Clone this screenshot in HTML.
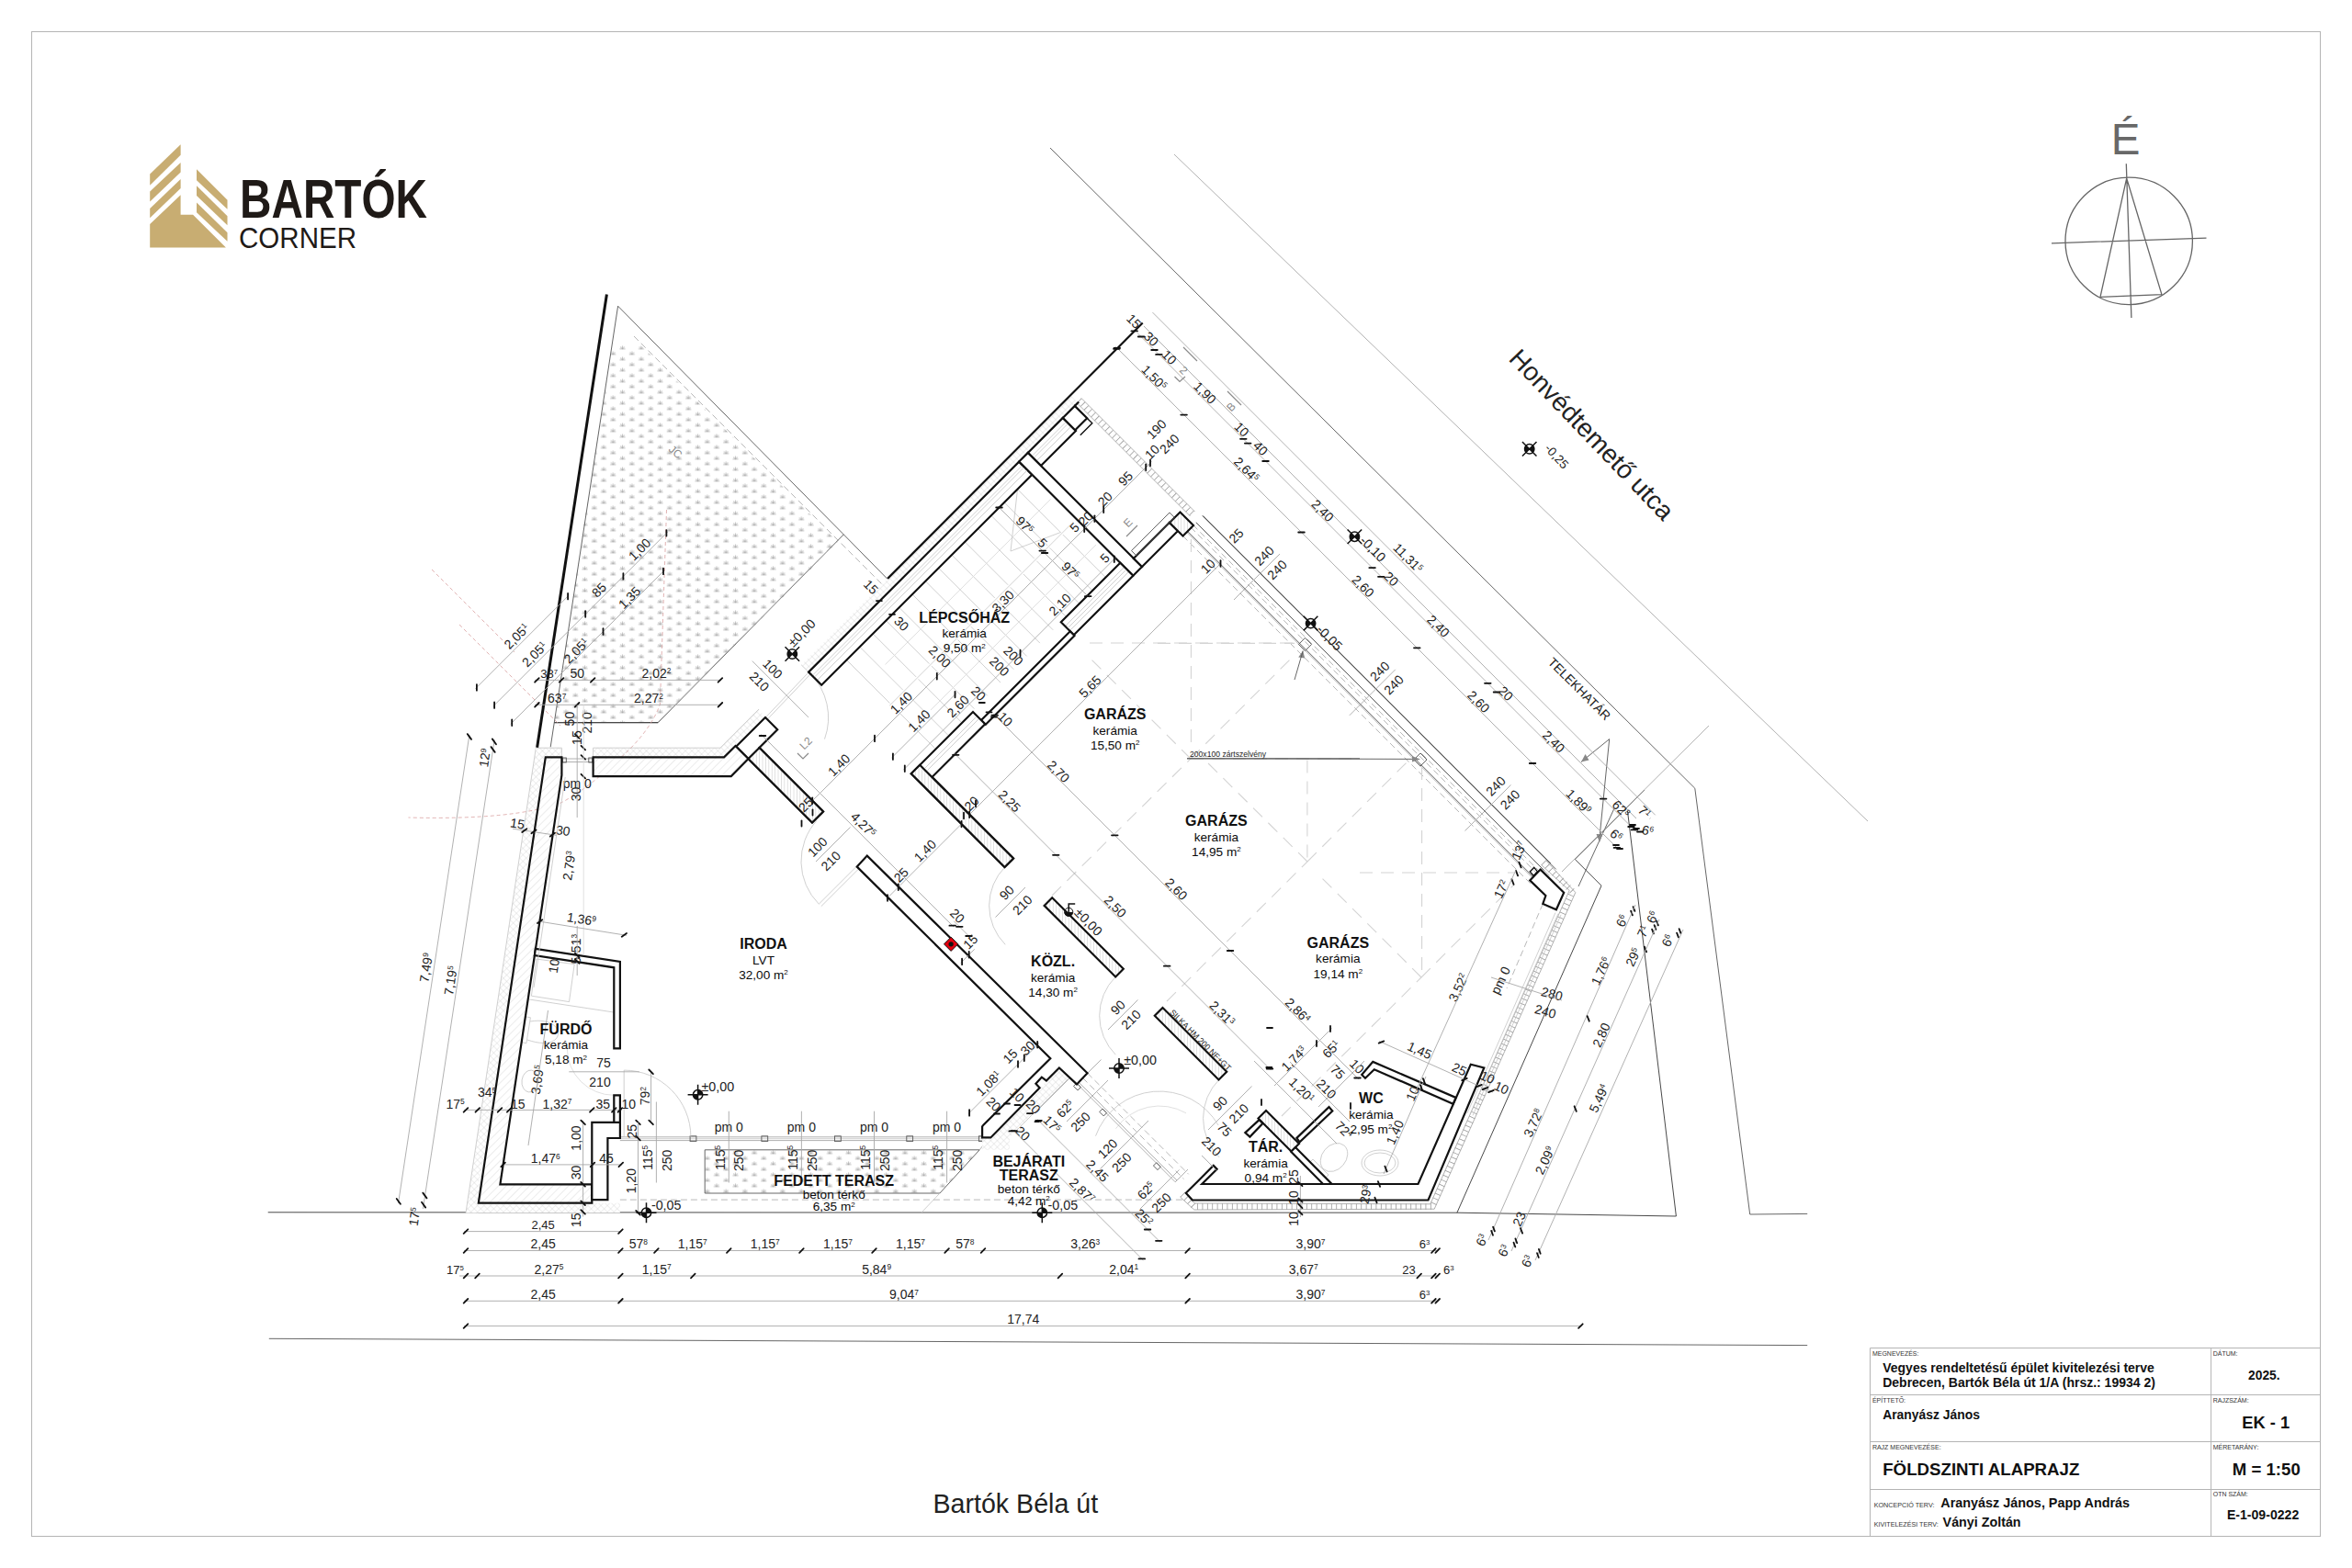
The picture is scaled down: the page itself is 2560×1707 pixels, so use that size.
<!DOCTYPE html>
<html lang="hu"><head><meta charset="utf-8"><title>Földszinti alaprajz</title>
<style>
html,body{margin:0;padding:0;background:#fff}
svg{display:block;font-family:"Liberation Sans",sans-serif}
text{fill:#0a0a0a}
.fr{fill:none;stroke:#b4b4b4;stroke-width:1}
.sm{fill:#333}
.b{font-weight:bold;fill:#111}
.st{fill:#222}
.d{fill:#222}
.na{fill:none;stroke:#666;stroke-width:1.3}
.w{fill:#fff;stroke:#111;stroke-width:2.2;stroke-linejoin:miter}
.wd{fill:url(#hd);stroke:#111;stroke-width:2.2}
.wh{fill:url(#hv);stroke:#111;stroke-width:2.2}
.k3{stroke:#111;stroke-width:3;fill:none}
.k2{stroke:#111;stroke-width:2.2;fill:none}
.k1{stroke:#111;stroke-width:1.4;fill:none}
.k{stroke:#111;stroke-width:1.8;fill:none;stroke-linecap:round}
.t{stroke:#a8a8a8;stroke-width:.9;fill:none}
.t2{stroke:#555;stroke-width:.9;fill:none}
.tk{stroke:#333;stroke-width:.9;fill:none}
.tl{stroke:#c4c4c4;stroke-width:.8;fill:none}
.tll{stroke:#dcdcdc;stroke-width:.9;fill:none}
.ds{stroke:#b0b0b0;stroke-width:.9;fill:none;stroke-dasharray:7 4}
.dsl{stroke:#d4d4d4;stroke-width:1.1;fill:none;stroke-dasharray:14 9}
.rd{stroke:#d9a0a0;stroke-width:.8;fill:none;stroke-dasharray:4 3}
.lv circle{fill:#fff;stroke:#111;stroke-width:1.5}.lv path{stroke:#111;stroke-width:1.5;fill:none}.lv path.q{fill:#111;stroke:none}
.hb{fill:url(#hx);stroke:none}
.gr{fill:url(#grass);stroke:none}
</style></head><body>
<svg width="2560" height="1707" viewBox="0 0 2560 1707">
<defs>
<pattern id="hd" width="6" height="6" patternUnits="userSpaceOnUse" patternTransform="rotate(-45)"><rect width="6" height="6" fill="#fff"/><path d="M0 0H6" stroke="#c9c9c9" stroke-width=".7"/></pattern>
<pattern id="hv" width="3.4" height="3.4" patternUnits="userSpaceOnUse"><rect width="3.4" height="3.4" fill="#fff"/><path d="M0 0V3.4" stroke="#aaa" stroke-width=".7"/></pattern>
<pattern id="hx" width="5" height="5" patternUnits="userSpaceOnUse" patternTransform="rotate(45)"><rect width="5" height="5" fill="#fff"/><path d="M0 0H5M0 0V5" stroke="#cfcfcf" stroke-width=".7"/></pattern>
<pattern id="grass" width="20.5" height="12" patternUnits="userSpaceOnUse" patternTransform="translate(6.3 10.45)"><g stroke="#949494" stroke-width=".6" fill="none" stroke-linecap="round"><path d="M2.3 3.3H7.7M5 .4V3.3M2.9 1.5Q4.4 2 5 3.3Q5.6 2 7.1 1.5"/><path d="M12.55 9.3H17.95M15.25 6.4V9.3M13.15 7.5Q14.65 8 15.25 9.3Q15.85 8 17.35 7.5"/></g></pattern>
</defs>
<rect width="2560" height="1707" fill="#fff"/>

<path class="t2" d="M1143 161L1844.8 858.2L1904.7 1322L1967.2 1321.4"/>
<path class="t" d="M1278 168L2033 894"/>
<path class="tk" d="M1771.5 883L1824.4 1324"/>
<path class="tk" d="M291.7 1319.8L1586 1320.2L1824.4 1324"/>
<path class="t2" d="M292.8 1457.3L1967.2 1464.6"/>
<path class="t" d="M1245 355L1781 891"/>
<path class="tk" d="M1714.3 935.5L1743 964.2L1585.9 1320.2"/>
<path class="t2" d="M1292.1 577.9L1677.1 962.9"/>
<path class="t" d="M1301.7 568.4L1686.7 953.4"/>
<path class="t2" d="M1308.7 561.4L1693.7 946.4"/>
<path class="ds" d="M1296 574L1681 959"/>
<path class="ds" d="M1298.5 571.5L1683.5 956.5"/>
<path class="gr" d="M698 376L912 590L716.2 786.7L603.5 786.7L634.1 580L666.4 376Z"/>
<path class="t2" d="M672.6 333.2L918.3 581.9L716.2 786.7L603.4 786.7"/>
<path class="t2" d="M672.6 333.2L599.2 813.3"/>
<path class="t2" d="M918.3 581.9L966 630.4"/>
<path class="ds" d="M690 366L914 590L963 639"/>
<path class="tl" d="M900 600L801 700L716 786"/>
<path class="tk" d="M603.4 786.7L716.2 786.7"/>
<path class="gr" d="M767.2 1251.8L1066.2 1251.8L1022.9 1299L767.2 1299Z"/>
<path class="t2" d="M767.2 1251.8L1066.2 1251.8L1022.9 1299L767.2 1299L767.2 1251.8"/>
<path class="t" d="M1066.2 1251.8L1070 1247"/>
<path class="tl" d="M1022.9 1299L1003 1320"/>
<path class="ds" d="M674.9 1306.1L1288 1306.1"/>
<path class="t" d="M674.9 1237.8L1068.8 1237.8"/>
<path class="t" d="M674.9 1241.6L1068.8 1241.6"/>
<path class="tl" d="M674.9 1239.7L1068.8 1239.7"/>
<rect x="751.1" y="1236.8" width="6.8" height="5.6" class="t2" fill="#fff"/>
<rect x="828.9" y="1236.8" width="6.8" height="5.6" class="t2" fill="#fff"/>
<rect x="908.5" y="1236.8" width="6.8" height="5.6" class="t2" fill="#fff"/>
<rect x="986.8000000000001" y="1236.8" width="6.8" height="5.6" class="t2" fill="#fff"/>
<rect x="1065.4" y="1236.8" width="4" height="5.6" class="t2"/>
<path class="hb" d="M583.3 814.2L593.8 814.2L593.8 824.4L520.8 1309.7L520.8 1320.2L507 1320.2Z"/>
<path class="tl" d="M583.3 814.2L507 1320.2"/>
<path class="hb" d="M520.8 1309.7L675 1309.7L675 1320.2L507 1320.2Z"/>
<path class="hb" d="M583.3 814.2L611.4 814.2L611.4 824.4L583.3 824.4Z"/>
<path class="hb" d="M645.6 814.2L784 814.2L826 772L833.2 781.3L800.5 812L788.1 824.4L645.6 824.4Z"/>
<path class="tl" d="M583.3 814.2L611.4 814.2"/>
<path class="tl" d="M645.6 814.2L784 814.2L826 772"/>
<path class="tl" d="M611.4 814.2L611.4 824.4"/>
<path class="tl" d="M645.6 814.2L645.6 824.4"/>
<path class="t" d="M611.4 826L645.6 826"/>
<path class="t" d="M611.4 829.5L645.6 829.5"/>
<rect x="612.3" y="825" width="4" height="5" class="t2"/><rect x="640.8" y="825" width="4" height="5" class="t2"/>
<path class="hb" d="M872.2 723.8L880.1 731.6L1173.3 438.4L1165.5 430.5Z"/>
<path class="tl" d="M872.2 723.8L880.1 731.6"/>
<g class="t2"><circle cx="1167.5" cy="458" r="2.2"/><circle cx="1172" cy="452.5" r="2.6"/><circle cx="1166.5" cy="453" r="1.6"/></g>
<path class="hb" d="M1078 1238L1088.5 1248.5L1164 1173L1153.5 1162.5Z"/>
<path class="hb" d="M1069.1 1238.4L1078.3 1238.4L1099 1217.5L1099 1251.8L1069.1 1251.8Z"/>
<path class="tl" d="M1106 1231L1162.5 1174.5"/>
<path d="M1174.5 436L1298 559.5" fill="none" stroke="#9a9a9a" stroke-width="7" stroke-dasharray=".8 4.6"/>
<path class="t" d="M1177 433.5L1300.5 557"/>
<path class="t" d="M1172 438.5L1295.5 562"/>
<path d="M1680 939L1711.5 970.5L1559 1313.5L1300 1313.5L1287 1300.5" fill="none" stroke="#9a9a9a" stroke-width="7" stroke-dasharray=".8 4.6"/>
<path class="t" d="M1682.5 936.5L1714.8 971.6L1561.2 1316.2L1299.8 1317L1284.5 1303"/>
<path class="t" d="M1677.5 941.5L1708.2 969.4L1556.8 1310.8L1300.2 1310L1289.5 1298"/>
<path class="t" d="M1291.7 579.3L1670.2 957.8"/>
<path class="t2" d="M1302 569L1680.5 947.5"/>
<path class="t2" d="M1309.5 561.5L1688 940"/>
<path class="ds" d="M1287.5 583.5L1666 962"/>
<rect x="1415.5" y="696.5" width="10" height="10" transform="rotate(45 1420.5 701.5)" class="t2" fill="#fff"/>
<rect x="1541" y="822" width="10" height="10" transform="rotate(45 1546 827)" class="t2" fill="#fff"/>
<path class="ds" d="M1679.3 984L1640 1076"/>
<path class="tl" d="M1693 993.5L1597 1212"/>
<path class="tl" d="M1696 994.7L1600 1213.2"/>
<path class="tl" d="M1699 995.9L1603 1214.4"/>
<path class="dsl" d="M1186 700H1415"/>
<path class="dsl" d="M1296.4 587V812"/>
<path class="dsl" d="M1260 700.4H1409"/>
<path class="dsl" d="M1422.9 827.6V938.5"/>
<path class="dsl" d="M1480 950H1648"/>
<path class="dsl" d="M1547.6 835V1064.8"/>
<path class="dsl" d="M1296 826H1480"/>
<path class="dsl" d="M1296 826L1186 716"/>
<path class="dsl" d="M1296 826L1409 713"/>
<path class="dsl" d="M1423 938L1310 826"/>
<path class="dsl" d="M1423 938L1534 827"/>
<path class="dsl" d="M1547 1064L1436 953"/>
<path class="dsl" d="M1547 1064L1648 963"/>
<path class="dsl" d="M1145 975L1296 826"/>
<path class="dsl" d="M1270 1090L1423 938"/>
<path class="dsl" d="M1395 1215L1547 1064"/>
<path class="tl" d="M1107.4 532.6L1154.4 579.6"/>
<path class="tl" d="M1156.9 582.1L1203.4 628.6"/>
<path class="tl" d="M1093.1 546.9L1140.1 593.9"/>
<path class="tl" d="M1142.6 596.4L1189.1 642.9"/>
<path class="tl" d="M1078.8 561.2L1125.8 608.2"/>
<path class="tl" d="M1128.3 610.7L1174.8 657.2"/>
<path class="tl" d="M1064.5 575.5L1111.5 622.5"/>
<path class="tl" d="M1114 625L1160.5 671.5"/>
<path class="tl" d="M1050.2 589.8L1097.2 636.8"/>
<path class="tl" d="M1099.7 639.3L1146.2 685.8"/>
<path class="tl" d="M1035.9 604.1L1082.9 651.1"/>
<path class="tl" d="M1085.4 653.6L1131.9 700.1"/>
<path class="tl" d="M1021.6 618.4L1068.6 665.4"/>
<path class="tl" d="M1071.1 667.9L1117.6 714.4"/>
<path class="tl" d="M1007.3 632.7L1054.3 679.7"/>
<path class="tl" d="M1056.8 682.2L1103.3 728.7"/>
<path class="tl" d="M993 647L1040 694"/>
<path class="tl" d="M1042.5 696.5L1089 743"/>
<path class="tl" d="M978.7 661.3L1025.7 708.3"/>
<path class="tl" d="M1028.2 710.8L1074.7 757.3"/>
<path class="tl" d="M964.4 675.6L1011.4 722.6"/>
<path class="tl" d="M1013.9 725.1L1060.4 771.6"/>
<path class="tl" d="M950.1 689.9L997.1 736.9"/>
<path class="tl" d="M999.6 739.4L1046.1 785.9"/>
<path class="tl" d="M935.8 704.2L982.8 751.2"/>
<path class="tl" d="M985.3 753.7L1031.8 800.2"/>
<path class="tl" d="M921.5 718.5L968.5 765.5"/>
<path class="tl" d="M971 768L1017.5 814.5"/>
<path class="tl" d="M968.2 768.2L1168.2 568.2"/>
<path class="tll" d="M963.5 723.5L1143.5 543.5"/>
<path class="tll" d="M1013 773L1193 593"/>
<path class="tl" d="M1107.5 532.5L1100 600L1154.5 579.5"/>
<path class="tl" d="M881.6 732.9A68.4 68.4 0 0 1 897.5 804.6"/>
<path class="tl" d="M833.2 781.2L880 732"/>
<path class="tl" d="M835.2 783.2L882 734"/>
<path class="tl" d="M891.3 984.2A66 66 0 0 1 889 893.3"/>
<path class="tl" d="M938 937.5L891.3 984.2"/>
<path class="tl" d="M940.5 940L893.8 986.7"/>
<path class="tl" d="M1094.2 943.5A60 60 0 0 0 1094.2 1028.3"/>
<path class="tl" d="M1214.3 1063.3A60 60 0 0 0 1214.3 1148.2"/>
<path class="tl" d="M1327.1 1175.1A60 60 0 0 0 1327.1 1259.9"/>
<path class="tl" d="M1192.5 1236.7A74 74 0 0 1 1326.1 1225"/>
<path class="tll" d="M1214.5 1228.7A58 58 0 0 1 1291 1211.8"/>
<path class="ds" d="M1183.7 1168.3L1293.7 1278.3"/>
<path class="ds" d="M1178.5 1173.5L1288.5 1283.5"/>
<path class="t" d="M1174 1178L1281 1285"/>
<path class="t" d="M1172.2 1179.8L1279.2 1286.8"/>
<rect x="1197.5" y="1208.6" width="6.4" height="4.8" transform="rotate(45 1200.7 1211)" class="t2" fill="#fff"/>
<rect x="1256.2" y="1267.2" width="6.4" height="4.8" transform="rotate(45 1259.4 1269.6)" class="t2" fill="#fff"/>
<rect x="1169.3" y="1180.6" width="6.4" height="4.8" transform="rotate(45 1172.5 1183)" class="t2" fill="#fff"/>
<path class="t" d="M1183.7 1168.3L1198.5 1153.5"/>
<path class="t" d="M1279 1287L1293 1273"/>
<path class="tl" d="M679.2 1165.1A72.7 72.7 0 0 1 751.9 1237.8"/>
<path class="tl" d="M679.2 1165L679.2 1237.8"/>
<path class="tll" d="M668.3 1192.3A51 51 0 0 1 617.3 1141.3"/>
<g class="tl"><ellipse cx="1502" cy="1266" rx="20" ry="14"/><ellipse cx="1502" cy="1266" rx="17" ry="11"/><ellipse cx="1452" cy="1260" rx="13" ry="17" transform="rotate(40 1452 1260)"/><rect x="1430" y="1262" width="9" height="24" transform="rotate(-45 1434 1274)"/></g>
<g class="tl"><ellipse cx="577" cy="1177" rx="9" ry="12" transform="rotate(8 577 1177)"/><path d="M583.8 1044L625.2 1049.7L619.5 1090.6L578.4 1084.2ZM576.1 1088L668 1102M570.4 1106.5L577.4 1107.8L572.9 1135.8L567.8 1134.6ZM577 1112C600 1108 612 1120 606 1130C600 1138 585 1136 574 1132"/></g>
<path class="rd" d="M725.5 555L718.4 767Q706 800 667.3 832Q640 858 611.6 873.5Q560 893 444.5 890"/>
<path class="rd" d="M500 680L610 790M470 620L560 710"/>
<path class="t2" d="M1751.7 804.6L1721 829.5M1751.7 804.6L1741 912M1757 880L1718 965"/>
<path d="M1721 829.5l8.5-2l-4 -6.5zM1741 917l-3.5-9h7zM1418.2 708.4l-5 7l7 1z" fill="#888"/>
<path class="t2" d="M1409 740L1418.2 708.4M1292 825.8L1540 826.4"/>
<path d="M1546 826.4l-9-3.2v6.4z" fill="#888"/>
<path class="t2" d="M1714.3 935.5L1790 860"/>
<path class="t" d="M1700 949L1860 790"/>
<g class="fr">
<rect x="34.5" y="34.5" width="2491" height="1638"/>
<path d="M2035.5 1467.5H2525.5M2035.5 1518.5H2525.5M2035.5 1569.5H2525.5M2035.5 1621.5H2525.5M2035.5 1467.5V1672.5M2406.6 1467.5V1672.5"/>
</g>
<text x="2037.9" y="1475.7" font-size="7" class="sm">MEGNEVEZÉS:</text>
<text x="2037.9" y="1526.9" font-size="7" class="sm">ÉPÍTTETŐ:</text>
<text x="2037.9" y="1578.1" font-size="7" class="sm">RAJZ MEGNEVEZÉSE:</text>
<text x="2408.7" y="1475.7" font-size="7" class="sm">DÁTUM:</text>
<text x="2408.7" y="1526.9" font-size="7" class="sm">RAJZSZÁM:</text>
<text x="2408.7" y="1578.1" font-size="7" class="sm">MÉRETARÁNY:</text>
<text x="2408.7" y="1629.3" font-size="7" class="sm">OTN SZÁM:</text>
<text x="2039.7" y="1640.6" font-size="7.2" class="sm">KONCEPCIÓ TERV:</text>
<text x="2039.7" y="1662" font-size="7.2" class="sm">KIVITELEZÉSI TERV:</text>
<text x="2049.2" y="1493.6" font-size="14" class="b">Vegyes rendeltetésű épület kivitelezési terve</text>
<text x="2049.2" y="1509.7" font-size="14" class="b">Debrecen, Bartók Béla út 1/A (hrsz.: 19934 2)</text>
<text x="2049.2" y="1544.6" font-size="13.9" class="b">Aranyász János</text>
<text x="2049.2" y="1606.1" font-size="18.7" class="b">FÖLDSZINTI ALAPRAJZ</text>
<text x="2112.3" y="1640.6" font-size="14.4" class="b">Aranyász János, Papp András</text>
<text x="2114.6" y="1661.7" font-size="14.3" class="b">Ványi Zoltán</text>
<text x="2464.3" y="1501.7" font-size="13.8" text-anchor="middle" class="b">2025.</text>
<text x="2466.2" y="1554.5" font-size="18.3" text-anchor="middle" class="b">EK - 1</text>
<text x="2466.8" y="1606.1" font-size="18.6" text-anchor="middle" class="b">M = 1:50</text>
<text x="2463.1" y="1653.9" font-size="14.1" text-anchor="middle" class="b">E-1-09-0222</text>
<g fill="#c8ad72">
<path d="M163.2 189.5L196.6 157.2V168.7L163.2 201.8Z"/>
<path d="M163.2 208.6L196.6 177.1V187.5L163.2 219.4Z"/>
<path d="M163.2 227L196.6 195.1V205L163.2 237.3Z"/>
<path d="M163.2 244.1L196.6 212.2V233.7H210L245.9 269.6H163.2Z"/>
<path d="M214 184.3L247.5 217.8V227.8L214 196.3Z"/>
<path d="M214 202.2L247.5 235.3V245.3L214 213Z"/>
<path d="M214 220.6L247.5 253.3V262.8L214 231.3Z"/>
</g>
<text x="261" y="236.5" font-size="58.5" font-weight="bold" style="fill:#1f1a17" textLength="204" lengthAdjust="spacingAndGlyphs">BARTÓK</text>
<text x="260" y="270" font-size="32" style="fill:#1f1a17" textLength="128" lengthAdjust="spacingAndGlyphs">CORNER</text>
<g class="na"><circle cx="2317.2" cy="262.4" r="69.2"/><path d="M2314.3 178.2L2319.9 346.1M2233 264.8L2401.5 259.2M2286 323.3L2314.7 194.1L2352.9 320.6Z"/></g>
<text x="2313.5" y="167.8" font-size="47.5" text-anchor="middle" style="fill:#686868">É</text>
<text x="1105.3" y="1646.8" font-size="28.6" text-anchor="middle" class="st">Bartók Béla út</text>
<text x="1641.1" y="391.4" font-size="28.2" class="st" transform="rotate(46.3 1641.1 391.4)">Honvédtemető utca</text>
<text x="1684.1" y="721.7" font-size="13.8" class="d" transform="rotate(45 1684.1 721.7)">TELEKHATÁR</text>
<path class="k3" d="M660.4 320.4L584.6 813.8"/>
<path class="k2" d="M966.1 629.9L1243.7 351.5"/>
<path class="w" d="M880.1 731.6L894.2 745.8L1123.3 516.7L1109.2 502.6Z"/>
<path class="w" d="M1118.8 492.9L1133 507L1171 469L1156.8 454.9Z"/>
<path class="w" d="M1156.8 454.9L1170.2 468.2L1183.2 455.2L1169.8 441.9Z"/>
<path class="k2" d="M1169.8 441.9L1174.2 437.5"/>
<path class="k1" d="M1183.2 455.2L1188.8 460.8L1175.8 473.8"/>
<path class="w" d="M1109.2 502.6L1233.3 626.7L1243 617L1118.8 492.9Z"/>
<path class="w" d="M1154.8 677.2L1168.8 691.2L1233.3 626.7L1219.3 612.7Z"/>
<path class="w" d="M1233.8 607.9L1243 617L1282 578L1272.8 568.9Z"/>
<path class="wh" d="M1273 569L1287.5 583.5L1299 572L1284.5 557.5Z"/>
<path class="t2" d="M1231.5 599.5L1236.8 604.9L1278.3 563.4L1273 558Z"/>
<path class="w" d="M1068 784L1072.8 788.8L1169.5 692L1164.8 687.2Z"/>
<path class="w" d="M991.8 842.2L1059 775L1072.2 788.2L1014.5 846L1103 934.5L1093.5 944Z"/>
<path class="wh" d="M991.8 842.2L1093.5 944L1103 934.5L1001.2 832.8Z"/>
<path class="wh" d="M1136.6 985.9L1214.2 1063.5L1222.8 1054.8L1145.2 977.2Z"/>
<path class="wh" d="M1256.8 1105.8L1326.5 1175.5L1335.2 1166.8L1265.5 1097Z"/>
<path class="wh" d="M1369.5 1217.5L1405.5 1253.5L1414 1245L1378 1209Z"/>
<path class="w" d="M1405.2 1253.8L1440.1 1289L1449.6 1289L1410 1249Z"/>
<path class="w" d="M833 781L846.2 794.2L826.5 814L896 883.5L884 895.5L801.2 812.8Z"/>
<path class="wh" d="M814.5 826L884 895.5L896 883.5L826.5 814Z"/>
<path class="wd" d="M645.6 824.4L788.1 824.4L800.5 812L814.5 826L795.8 845.1L645.6 845.1Z"/>
<path class="wd" d="M593.8 824.4L611.4 824.4L611.4 843.8L544.4 1289.3L644.3 1289.3L644.3 1309.7L520.8 1309.7Z"/>
<path class="w" d="M644.3 1221.9L674.9 1221.9L674.9 1239L661.4 1239L661.4 1306.1L644.3 1306.1Z"/>
<path class="w" d="M582.8 1032.9L674.9 1046.9L674.9 1141.3L668.3 1141.3L668.3 1053.3L581.9 1040Z"/>
<path class="w" d="M668.3 1192.3L674.9 1192.3L674.9 1221.9L668.3 1221.9Z"/>
<path class="w" d="M932.8 943.6L943.8 931.6L1183.5 1168.2L1172 1180.4L1152.9 1162.5L1138.9 1176.5L1133.8 1172.7L1127.4 1179.7L1131.6 1184.2L1078.3 1238.4L1069.1 1238.4L1069.1 1226.3L1070.6 1224.4L1143.3 1152.3Z"/>
<path class="w" d="M1297.9 1306.5L1290.8 1298.8L1303 1286.7L1320.8 1268.8L1324.6 1272.7L1308.3 1289L1543.5 1289L1600.8 1158.7L1615.3 1162.5L1554.5 1306.5Z"/>
<path class="w" d="M1482.2 1170L1494.3 1155.9L1584.6 1194.9L1581.6 1201.8L1495.8 1164.2L1486 1173.8Z"/>
<path class="w" d="M1411.4 1238.9L1446.5 1205.1L1450.3 1209.5L1414.6 1243.3Z"/>
<path class="w" d="M1355.3 1233.1L1370.6 1219.1L1374.4 1222.9L1360.4 1237.6Z"/>
<path class="w" d="M1676.7 946.6L1702.2 971.8L1693.9 990.3L1679.3 984L1682.4 975L1665.2 958.4Z"/>
<path class="k1" d="M1665.2 948.9L1669.7 944.4L1673.5 948.9L1669.1 953.3Z"/>
<path class="t" d="M505 1340.6L676 1340.6"/>
<path class="k" d="M504.7 1342.9L509.3 1338.3"/>
<path class="k" d="M673.1 1342.9L677.7 1338.3"/>
<text x="591.2" y="1338.4" font-size="13" text-anchor="middle" class="d">2,45</text>
<path class="t" d="M505 1361.5L1565.7 1361.5"/>
<path class="k" d="M504.7 1363.8L509.3 1359.2"/>
<path class="k" d="M673.1 1363.8L677.7 1359.2"/>
<path class="k" d="M712.1 1363.8L716.7 1359.2"/>
<path class="k" d="M791 1363.8L795.6 1359.2"/>
<path class="k" d="M870.1 1363.8L874.7 1359.2"/>
<path class="k" d="M949.2 1363.8L953.8 1359.2"/>
<path class="k" d="M1028.3 1363.8L1032.9 1359.2"/>
<path class="k" d="M1067.7 1363.8L1072.3 1359.2"/>
<path class="k" d="M1290.3 1363.8L1294.9 1359.2"/>
<path class="k" d="M1558.1 1363.8L1562.7 1359.2"/>
<path class="k" d="M1562.4 1363.8L1567 1359.2"/>
<text x="591.2" y="1359.3" font-size="14" text-anchor="middle" class="d">2,45</text>
<text x="694.9" y="1359.3" font-size="14" text-anchor="middle" class="d">57<tspan font-size="8.4" dy="-4.6">8</tspan></text>
<text x="753.8" y="1359.3" font-size="14" text-anchor="middle" class="d">1,15<tspan font-size="8.4" dy="-4.6">7</tspan></text>
<text x="832.8" y="1359.3" font-size="14" text-anchor="middle" class="d">1,15<tspan font-size="8.4" dy="-4.6">7</tspan></text>
<text x="912" y="1359.3" font-size="14" text-anchor="middle" class="d">1,15<tspan font-size="8.4" dy="-4.6">7</tspan></text>
<text x="991" y="1359.3" font-size="14" text-anchor="middle" class="d">1,15<tspan font-size="8.4" dy="-4.6">7</tspan></text>
<text x="1050.3" y="1359.3" font-size="14" text-anchor="middle" class="d">57<tspan font-size="8.4" dy="-4.6">8</tspan></text>
<text x="1181.3" y="1359.3" font-size="14" text-anchor="middle" class="d">3,26<tspan font-size="8.4" dy="-4.6">3</tspan></text>
<text x="1426.5" y="1359.3" font-size="14" text-anchor="middle" class="d">3,90<tspan font-size="8.4" dy="-4.6">7</tspan></text>
<text x="1550.5" y="1359.3" font-size="13" text-anchor="middle" class="d">6<tspan font-size="7.8" dy="-4.3">3</tspan></text>
<path class="t" d="M500 1389L1565.7 1389"/>
<path class="k" d="M504.7 1391.3L509.3 1386.7"/>
<path class="k" d="M517.2 1391.3L521.8 1386.7"/>
<path class="k" d="M673.1 1391.3L677.7 1386.7"/>
<path class="k" d="M752 1391.3L756.6 1386.7"/>
<path class="k" d="M1151.6 1391.3L1156.2 1386.7"/>
<path class="k" d="M1290.3 1391.3L1294.9 1386.7"/>
<path class="k" d="M1542.4 1391.3L1547 1386.7"/>
<path class="k" d="M1558.1 1391.3L1562.7 1386.7"/>
<path class="k" d="M1562.4 1391.3L1567 1386.7"/>
<text x="597.5" y="1386.8" font-size="14" text-anchor="middle" class="d">2,27<tspan font-size="8.4" dy="-4.6">5</tspan></text>
<text x="714.8" y="1386.8" font-size="14" text-anchor="middle" class="d">1,15<tspan font-size="8.4" dy="-4.6">7</tspan></text>
<text x="954.1" y="1386.8" font-size="14" text-anchor="middle" class="d">5,84<tspan font-size="8.4" dy="-4.6">9</tspan></text>
<text x="1223.2" y="1386.8" font-size="14" text-anchor="middle" class="d">2,04<tspan font-size="8.4" dy="-4.6">1</tspan></text>
<text x="1418.7" y="1386.8" font-size="14" text-anchor="middle" class="d">3,67<tspan font-size="8.4" dy="-4.6">7</tspan></text>
<text x="495.5" y="1386.8" font-size="13" text-anchor="middle" class="d">17<tspan font-size="7.8" dy="-4.3">5</tspan></text>
<text x="1533.5" y="1386.8" font-size="13" text-anchor="middle" class="d">23</text>
<text x="1571" y="1386.8" font-size="13" class="d">6<tspan font-size="7.8" dy="-4.3">3</tspan></text>
<path class="t" d="M505 1416.3L1565.7 1416.3"/>
<path class="k" d="M504.7 1418.6L509.3 1414"/>
<path class="k" d="M673.1 1418.6L677.7 1414"/>
<path class="k" d="M1290.3 1418.6L1294.9 1414"/>
<path class="k" d="M1558.1 1418.6L1562.7 1414"/>
<path class="k" d="M1562.4 1418.6L1567 1414"/>
<text x="591.2" y="1414.1" font-size="14" text-anchor="middle" class="d">2,45</text>
<text x="984" y="1414.1" font-size="14" text-anchor="middle" class="d">9,04<tspan font-size="8.4" dy="-4.6">7</tspan></text>
<text x="1426.5" y="1414.1" font-size="14" text-anchor="middle" class="d">3,90<tspan font-size="8.4" dy="-4.6">7</tspan></text>
<text x="1550.5" y="1414.1" font-size="13" text-anchor="middle" class="d">6<tspan font-size="7.8" dy="-4.3">3</tspan></text>
<path class="t" d="M505 1443.6L1721.4 1443.6"/>
<path class="k" d="M504.7 1445.9L509.3 1441.3"/>
<path class="k" d="M1718.1 1445.9L1722.7 1441.3"/>
<text x="1113.7" y="1441.4" font-size="14" text-anchor="middle" class="d">17,74</text>
<path class="t" d="M1214.3 377.3L1761.4 924.4"/>
<path class="k" d="M1212.5 378.8L1219.1 378.8"/>
<path class="k" d="M1285.3 451.6L1291.9 451.6"/>
<path class="k" d="M1413.2 579.5L1419.8 579.5"/>
<path class="k" d="M1539 705.3L1545.6 705.3"/>
<path class="k" d="M1664.8 831L1671.3 831"/>
<path class="k" d="M1756.6 922.9L1763.2 922.9"/>
<text x="1252.9" y="414.5" font-size="14" text-anchor="middle" class="d" transform="rotate(45 1252.9 414.5)">1,50<tspan font-size="8.4" dy="-4.6">5</tspan></text>
<text x="1353.3" y="514.9" font-size="14" text-anchor="middle" class="d" transform="rotate(45 1353.3 514.9)">2,64<tspan font-size="8.4" dy="-4.6">5</tspan></text>
<text x="1480.1" y="641.7" font-size="14" text-anchor="middle" class="d" transform="rotate(45 1480.1 641.7)">2,60</text>
<text x="1605.9" y="767.5" font-size="14" text-anchor="middle" class="d" transform="rotate(45 1605.9 767.5)">2,60</text>
<text x="1714.7" y="876.3" font-size="14" text-anchor="middle" class="d" transform="rotate(45 1714.7 876.3)">1,89<tspan font-size="8.4" dy="-4.6">9</tspan></text>
<path class="t" d="M1238 362.5L1780.9 905.4"/>
<path class="k" d="M1238.8 366.5L1245.3 366.5"/>
<path class="k" d="M1253.2 381L1259.8 381"/>
<path class="k" d="M1258.1 385.9L1264.7 385.9"/>
<path class="k" d="M1350 477.8L1356.6 477.8"/>
<path class="k" d="M1354.9 482.6L1361.5 482.6"/>
<path class="k" d="M1374.2 502L1380.8 502"/>
<path class="k" d="M1490.3 618.1L1496.9 618.1"/>
<path class="k" d="M1500 627.8L1506.5 627.8"/>
<path class="k" d="M1616 743.8L1622.6 743.8"/>
<path class="k" d="M1625.7 753.5L1632.3 753.5"/>
<path class="k" d="M1741.8 869.6L1748.4 869.6"/>
<path class="k" d="M1772.2 900L1778.8 900"/>
<path class="k" d="M1775.6 903.4L1782.2 903.4"/>
<text x="1249.4" y="372.6" font-size="14" text-anchor="middle" class="d" transform="rotate(45 1249.4 372.6)">30</text>
<text x="1269.2" y="392.4" font-size="14" text-anchor="middle" class="d" transform="rotate(45 1269.2 392.4)">10</text>
<text x="1308" y="431.2" font-size="14" text-anchor="middle" class="d" transform="rotate(45 1308 431.2)">1,90</text>
<text x="1347.9" y="471.1" font-size="14" text-anchor="middle" class="d" transform="rotate(45 1347.9 471.1)">10</text>
<text x="1368.5" y="491.6" font-size="14" text-anchor="middle" class="d" transform="rotate(45 1368.5 491.6)">40</text>
<text x="1436.2" y="559.4" font-size="14" text-anchor="middle" class="d" transform="rotate(45 1436.2 559.4)">2,40</text>
<text x="1510.7" y="633.8" font-size="14" text-anchor="middle" class="d" transform="rotate(45 1510.7 633.8)">20</text>
<text x="1562" y="685.1" font-size="14" text-anchor="middle" class="d" transform="rotate(45 1562 685.1)">2,40</text>
<text x="1635.4" y="758.6" font-size="14" text-anchor="middle" class="d" transform="rotate(45 1635.4 758.6)">20</text>
<text x="1687.7" y="810.9" font-size="14" text-anchor="middle" class="d" transform="rotate(45 1687.7 810.9)">2,40</text>
<text x="1761" y="884.1" font-size="14" text-anchor="middle" class="d" transform="rotate(45 1761 884.1)">62<tspan font-size="8.4" dy="-4.6">8</tspan></text>
<path class="t" d="M1254.5 340.1L1801.7 887.3"/>
<text x="1529.1" y="610.9" font-size="14" text-anchor="middle" class="d" transform="rotate(45 1529.1 610.9)">11,31<tspan font-size="8.4" dy="-4.6">5</tspan></text>
<path class="t" d="M1795.5 891.5L1796.5 890.5"/>
<text x="1786.4" y="887.3" font-size="14" text-anchor="middle" class="d" transform="rotate(45 1786.4 887.3)">7<tspan font-size="8.4" dy="-4.6">1</tspan></text>
<path class="t" d="M1081.2 777.2L1479 1175"/>
<path class="k" d="M1079.4 778.7L1086 778.7"/>
<path class="k" d="M1210 909.3L1216.6 909.3"/>
<path class="k" d="M1335.8 1035L1342.3 1035"/>
<path class="k" d="M1474.2 1173.5L1480.8 1173.5"/>
<text x="1148.7" y="843.3" font-size="14" text-anchor="middle" class="d" transform="rotate(45 1148.7 843.3)">2,70</text>
<text x="1276.9" y="971.5" font-size="14" text-anchor="middle" class="d" transform="rotate(45 1276.9 971.5)">2,60</text>
<text x="1409" y="1103.6" font-size="14" text-anchor="middle" class="d" transform="rotate(45 1409 1103.6)">2,86<tspan font-size="8.4" dy="-4.6">4</tspan></text>
<path class="t" d="M1038.8 820.2L1383.5 1165"/>
<path class="k" d="M1037 821.8L1043.5 821.8"/>
<path class="k" d="M1146 930.8L1152.5 930.8"/>
<path class="k" d="M1266.9 1051.7L1273.5 1051.7"/>
<path class="k" d="M1378.7 1163.5L1385.3 1163.5"/>
<text x="1095.4" y="875.6" font-size="14" text-anchor="middle" class="d" transform="rotate(45 1095.4 875.6)">2,25</text>
<text x="1210.4" y="990.5" font-size="14" text-anchor="middle" class="d" transform="rotate(45 1210.4 990.5)">2,50</text>
<text x="1326.8" y="1106.9" font-size="14" text-anchor="middle" class="d" transform="rotate(45 1326.8 1106.9)">2,31<tspan font-size="8.4" dy="-4.6">3</tspan></text>
<path class="t" d="M1055.2 886.8L1328.5 613.5"/>
<path class="k" d="M1055.2 883.5L1055.2 890"/>
<path class="k" d="M1328.5 610.2L1328.5 616.8"/>
<text x="1189.8" y="750.8" font-size="14" text-anchor="middle" class="d" transform="rotate(-45 1189.8 750.8)">5,65</text>
<path class="t" d="M882.8 873.2L1253.5 502.5"/>
<path class="k" d="M884.2 868.5L884.2 875"/>
<path class="k" d="M952 800.7L952 807.2"/>
<path class="k" d="M1019.8 733L1019.8 739.5"/>
<path class="k" d="M1180.2 572.5L1180.2 579.1"/>
<path class="k" d="M1191.4 561.3L1191.4 567.9"/>
<path class="k" d="M1201.2 551.5L1201.2 558"/>
<path class="k" d="M1247.2 505.5L1247.2 512.1"/>
<path class="k" d="M1252 500.7L1252 507.3"/>
<text x="916.7" y="836.4" font-size="14" text-anchor="middle" class="d" transform="rotate(-45 916.7 836.4)">1,40</text>
<text x="984.5" y="768.7" font-size="14" text-anchor="middle" class="d" transform="rotate(-45 984.5 768.7)">1,40</text>
<text x="1095.1" y="658.1" font-size="14" text-anchor="middle" class="d" transform="rotate(-45 1095.1 658.1)">3,30</text>
<text x="1184.9" y="568.3" font-size="14" text-anchor="middle" class="d" transform="rotate(-45 1184.9 568.3)">20</text>
<text x="1206.3" y="546.8" font-size="14" text-anchor="middle" class="d" transform="rotate(-45 1206.3 546.8)">20</text>
<text x="1228.6" y="524.6" font-size="14" text-anchor="middle" class="d" transform="rotate(-45 1228.6 524.6)">95</text>
<text x="1257.6" y="495.6" font-size="14" text-anchor="middle" class="d" transform="rotate(-45 1257.6 495.6)">10</text>
<path class="t" d="M970.4 825.1L1041 754.5"/>
<path class="k" d="M971.9 820.3L971.9 826.9"/>
<path class="k" d="M1039.5 752.8L1039.5 759.3"/>
<text x="1004" y="788.1" font-size="14" text-anchor="middle" class="d" transform="rotate(-45 1004 788.1)">1,40</text>
<path class="t" d="M983.3 838.2L1214.2 607.2"/>
<path class="k" d="M984.8 833.4L984.8 840"/>
<path class="k" d="M1110.5 707.7L1110.5 714.2"/>
<path class="k" d="M1212.8 605.5L1212.8 612"/>
<text x="1046.2" y="772.4" font-size="14" text-anchor="middle" class="d" transform="rotate(-45 1046.2 772.4)">2,60</text>
<text x="1157.1" y="661.5" font-size="14" text-anchor="middle" class="d" transform="rotate(-45 1157.1 661.5)">2,10</text>
<path class="t" d="M964.5 979L1048 895.5"/>
<path class="k" d="M966 974.2L966 980.8"/>
<path class="k" d="M977.8 962.5L977.8 969"/>
<path class="k" d="M1046.5 893.8L1046.5 900.3"/>
<text x="1010.4" y="929.7" font-size="14" text-anchor="middle" class="d" transform="rotate(-45 1010.4 929.7)">1,40</text>
<text x="984.2" y="956" font-size="14" text-anchor="middle" class="d" transform="rotate(-45 984.2 956)">25</text>
<path class="t" d="M828.5 799.5L1038.2 1009.2"/>
<path class="k" d="M826.7 801L833.3 801"/>
<path class="k" d="M1033.4 1007.7L1040 1007.7"/>
<text x="936.3" y="901.4" font-size="14" text-anchor="middle" class="d" transform="rotate(45 936.3 901.4)">4,27<tspan font-size="8.4" dy="-4.6">5</tspan></text>
<path class="t" d="M1038.3 1002.8L1056 1020.5"/>
<path class="k" d="M1041 1008.8L1047.6 1008.8"/>
<path class="k" d="M1051.2 1019L1057.8 1019"/>
<text x="1038.4" y="1000.6" font-size="14" text-anchor="middle" class="d" transform="rotate(45 1038.4 1000.6)">20</text>
<path class="t" d="M1045.6 1048.4L1060.7 1033.3"/>
<path class="k" d="M1047.1 1043.6L1047.1 1050.2"/>
<path class="k" d="M1054.7 1036L1054.7 1042.6"/>
<text x="1059.7" y="1028.7" font-size="14" text-anchor="middle" class="d" transform="rotate(-45 1059.7 1028.7)">15</text>
<path class="t" d="M1086 551L1185.7 650.7"/>
<path class="k" d="M1084.2 552.5L1090.8 552.5"/>
<path class="k" d="M1131.4 599.6L1138 599.6"/>
<path class="k" d="M1133.8 602L1140.3 602"/>
<path class="k" d="M1180.9 649.2L1187.5 649.2"/>
<text x="1112" y="575.1" font-size="14" text-anchor="middle" class="d" transform="rotate(45 1112 575.1)">97<tspan font-size="8.4" dy="-4.6">5</tspan></text>
<text x="1161.6" y="624.7" font-size="14" text-anchor="middle" class="d" transform="rotate(45 1161.6 624.7)">97<tspan font-size="8.4" dy="-4.6">5</tspan></text>
<text x="1131.2" y="594.4" font-size="14" text-anchor="middle" class="d" transform="rotate(45 1131.2 594.4)">5</text>
<text x="1206" y="611" font-size="14" text-anchor="middle" class="d" transform="rotate(-45 1206 611)">5</text>
<text x="1172.9" y="577.8" font-size="14" text-anchor="middle" class="d" transform="rotate(-45 1172.9 577.8)">5</text>
<text x="1230.7" y="353.3" font-size="14" text-anchor="middle" class="d" transform="rotate(45 1230.7 353.3)">15</text>
<path class="k" d="M1231.4 360.4L1238 360.4"/>
<path class="k" d="M1212 379.8L1218.6 379.8"/>
<text x="1262.2" y="470.7" font-size="14" text-anchor="middle" class="d" transform="rotate(-45 1262.2 470.7)">190</text>
<text x="1276.2" y="486.8" font-size="14" text-anchor="middle" class="d" transform="rotate(-45 1276.2 486.8)">240</text>
<text x="1348.9" y="586.8" font-size="14" text-anchor="middle" class="d" transform="rotate(-45 1348.9 586.8)">25</text>
<text x="1318.3" y="619.9" font-size="14" text-anchor="middle" class="d" transform="rotate(-45 1318.3 619.9)">10</text>
<text x="1379.5" y="608.4" font-size="14" text-anchor="middle" class="d" transform="rotate(-45 1379.5 608.4)">240</text>
<text x="1393.5" y="623.8" font-size="14" text-anchor="middle" class="d" transform="rotate(-45 1393.5 623.8)">240</text>
<path d="M1027.5 1027.8L1035.1 1020.1999999999999L1042.6999999999998 1027.8L1035.1 1035.3999999999999Z" fill="#e3000f" stroke="#111" stroke-width="1"/><circle cx="1035.1" cy="1027.8" r="2.6" fill="#111"/>
<path class="t" d="M517.4 749.9L619.6 647.6"/>
<path class="k" d="M518.9 745.1L518.9 751.7"/>
<path class="k" d="M618.1 645.9L618.1 652.4"/>
<text x="565.8" y="696.1" font-size="14" text-anchor="middle" class="d" transform="rotate(-45 565.8 696.1)">2,05<tspan font-size="8.4" dy="-4.6">1</tspan></text>
<path class="t" d="M536.6 769.1L726.9 578.9"/>
<path class="k" d="M538.1 764.4L538.1 770.9"/>
<path class="k" d="M637.2 665.2L637.2 671.8"/>
<path class="k" d="M678.4 624.1L678.4 630.6"/>
<path class="k" d="M725.4 577.1L725.4 583.6"/>
<text x="585.4" y="715.8" font-size="14" text-anchor="middle" class="d" transform="rotate(-45 585.4 715.8)">2,05<tspan font-size="8.4" dy="-4.6">1</tspan></text>
<text x="655.6" y="645.7" font-size="14" text-anchor="middle" class="d" transform="rotate(-45 655.6 645.7)">85</text>
<text x="699.7" y="601.6" font-size="14" text-anchor="middle" class="d" transform="rotate(-45 699.7 601.6)">1,00</text>
<path class="t" d="M555.8 788.2L723.5 620.5"/>
<path class="k" d="M557.2 783.5L557.2 790"/>
<path class="k" d="M656.5 684.2L656.5 690.8"/>
<path class="k" d="M722 618.7L722 625.2"/>
<text x="630.7" y="712" font-size="14" text-anchor="middle" class="d" transform="rotate(-45 630.7 712)">2,05<tspan font-size="8.4" dy="-4.6">1</tspan></text>
<text x="688.6" y="654" font-size="14" text-anchor="middle" class="d" transform="rotate(-45 688.6 654)">1,35</text>
<path class="t" d="M582 740.4L784.9 740.4"/>
<path class="k" d="M582.1 742.7L586.7 738.1"/>
<path class="k" d="M608.8 742.7L613.4 738.1"/>
<path class="k" d="M642.9 742.7L647.5 738.1"/>
<path class="k" d="M781.6 742.7L786.2 738.1"/>
<text x="628.2" y="738" font-size="14" text-anchor="middle" class="d">50</text>
<text x="714.5" y="738" font-size="14" text-anchor="middle" class="d">2,02<tspan font-size="8.4" dy="-4.6">2</tspan></text>
<text x="597.7" y="738" font-size="13" text-anchor="middle" class="d">38<tspan font-size="7.8" dy="-4.3">7</tspan></text>
<path class="t" d="M582 767.3L784.9 767.3"/>
<path class="k" d="M582.1 769.6L586.7 765"/>
<path class="k" d="M625.8 769.6L630.4 765"/>
<path class="k" d="M781.6 769.6L786.2 765"/>
<text x="606.2" y="765.3" font-size="14" text-anchor="middle" class="d">63<tspan font-size="8.4" dy="-4.6">7</tspan></text>
<text x="706" y="765.3" font-size="14" text-anchor="middle" class="d">2,27<tspan font-size="8.4" dy="-4.6">2</tspan></text>
<path class="t" d="M628.2 767.3L628.2 890"/>
<path class="k" d="M637.1 816.4L632.5 811.8"/>
<path class="k" d="M637.1 826.7L632.5 822.1"/>
<path class="k" d="M637.1 847.4L632.5 842.8"/>
<path class="k" d="M630.5 803.8L625.9 799.2"/>
<text x="624.6" y="782.6" font-size="14" text-anchor="middle" class="d" transform="rotate(-90 624.6 782.6)">50</text>
<text x="644.2" y="786.9" font-size="14" text-anchor="middle" class="d" transform="rotate(-90 644.2 786.9)">210</text>
<text x="633.1" y="803.1" font-size="14" text-anchor="middle" class="d" transform="rotate(-90 633.1 803.1)">15</text>
<text x="631.9" y="864.5" font-size="14" text-anchor="middle" class="d" transform="rotate(-90 631.9 864.5)">30</text>
<text x="628.2" y="858.1" font-size="14" text-anchor="middle" class="d">pm 0</text>
<path class="tll" d="M635.2 767.3L635.2 1040"/>
<path class="t" d="M818.8 719.6L880 780.9"/>
<text x="837.4" y="731.7" font-size="14" text-anchor="middle" class="d" transform="rotate(45 837.4 731.7)">100</text>
<text x="822.9" y="745.4" font-size="14" text-anchor="middle" class="d" transform="rotate(45 822.9 745.4)">210</text>
<g class="lv" transform="rotate(45 862.3 712)"><circle cx="862.3" cy="712" r="5.2"/><path class="q" d="M862.3 712V706.8A5.2 5.2 0 0 1 867.5 712ZM862.3 712V717.2A5.2 5.2 0 0 1 857.1 712Z"/><path d="M851.3 712H873.3M862.3 701V723"/></g>
<text x="876.1" y="692.6" font-size="14.3" text-anchor="middle" class="d" transform="rotate(-45 876.1 692.6)">±0,00</text>
<path class="t" d="M510.9 800L433.5 1310"/>
<path class="k" d="M508.8 799.1L513 804.9"/>
<path class="k" d="M431.7 1305L435.9 1310.8"/>
<path class="t" d="M538.2 805.3L460.4 1316"/>
<path class="k" d="M535.8 804.4L540 810.2"/>
<path class="k" d="M534.5 813.1L538.7 818.9"/>
<path class="k" d="M460.3 1298.6L464.5 1304.4"/>
<path class="k" d="M459 1308.8L463.2 1314.6"/>
<text x="532.4" y="825.8" font-size="14" text-anchor="middle" class="d" transform="rotate(-81.4 532.4 825.8)">12<tspan font-size="8.4" dy="-4.6">9</tspan></text>
<text x="468.7" y="1054.1" font-size="14" text-anchor="middle" class="d" transform="rotate(-81.4 468.7 1054.1)">7,49<tspan font-size="8.4" dy="-4.6">9</tspan></text>
<text x="495.5" y="1068.1" font-size="14" text-anchor="middle" class="d" transform="rotate(-81.4 495.5 1068.1)">7,19<tspan font-size="8.4" dy="-4.6">5</tspan></text>
<text x="455.9" y="1325.3" font-size="14" text-anchor="middle" class="d" transform="rotate(-81.4 455.9 1325.3)">17<tspan font-size="8.4" dy="-4.6">5</tspan></text>
<path class="t" d="M558 902.2L606 909.4"/>
<path class="k" d="M568.2 906L573.4 902.2"/>
<path class="k" d="M578.4 907.3L583.6 903.5"/>
<path class="k" d="M598.8 910.6L604 906.8"/>
<text x="562.4" y="901.4" font-size="14" text-anchor="middle" class="d" transform="rotate(8.6 562.4 901.4)">15</text>
<text x="612.1" y="909.1" font-size="14" text-anchor="middle" class="d" transform="rotate(8.6 612.1 909.1)">30</text>
<text x="624.3" y="943.1" font-size="14" text-anchor="middle" class="d" transform="rotate(-81.4 624.3 943.1)">2,79<tspan font-size="8.4" dy="-4.6">3</tspan></text>
<path class="tl" d="M615.2 846L581 1075"/>
<path class="t" d="M585.6 1002.9L682 1018.3"/>
<path class="k" d="M585 1005.1L590.2 1001.3"/>
<path class="k" d="M676.8 1019.8L682 1016"/>
<text x="632.2" y="1005.5" font-size="14" text-anchor="middle" class="d" transform="rotate(8.6 632.2 1005.5)">1,36<tspan font-size="8.4" dy="-4.6">9</tspan></text>
<text x="632.4" y="1027" font-size="14" text-anchor="middle" class="d" transform="rotate(-90 632.4 1027)">51<tspan font-size="8.4" dy="-4.6">3</tspan></text>
<text x="632.4" y="1045.5" font-size="14" text-anchor="middle" class="d" transform="rotate(-90 632.4 1045.5)">5</text>
<text x="607.7" y="1052.3" font-size="14" text-anchor="middle" class="d" transform="rotate(-81.4 607.7 1052.3)">10</text>
<path class="t" d="M628.2 1008L628.2 1062"/>
<path class="k" d="M630.5 1042.3L625.9 1037.7"/>
<path class="k" d="M630.5 1048.8L625.9 1044.2"/>
<path class="t" d="M505 1208.4L677 1208.4"/>
<path class="k" d="M504.7 1210.7L509.3 1206.1"/>
<path class="k" d="M517.5 1210.7L522.1 1206.1"/>
<path class="k" d="M541.7 1210.7L546.3 1206.1"/>
<path class="k" d="M551.9 1210.7L556.5 1206.1"/>
<path class="k" d="M642 1210.7L646.6 1206.1"/>
<path class="k" d="M666 1210.7L670.6 1206.1"/>
<path class="k" d="M672.6 1210.7L677.2 1206.1"/>
<text x="495.6" y="1206.5" font-size="14" text-anchor="middle" class="d">17<tspan font-size="8.4" dy="-4.6">5</tspan></text>
<text x="530" y="1194.3" font-size="14" text-anchor="middle" class="d">34<tspan font-size="8.4" dy="-4.6">5</tspan></text>
<text x="563.7" y="1206.5" font-size="14" text-anchor="middle" class="d">15</text>
<text x="606.5" y="1206.5" font-size="14" text-anchor="middle" class="d">1,32<tspan font-size="8.4" dy="-4.6">7</tspan></text>
<text x="656.3" y="1206.5" font-size="14" text-anchor="middle" class="d">35</text>
<text x="684.3" y="1206.5" font-size="14" text-anchor="middle" class="d">10</text>
<text x="589.8" y="1176.1" font-size="14" text-anchor="middle" class="d" transform="rotate(-81.4 589.8 1176.1)">3,69<tspan font-size="8.4" dy="-4.6">5</tspan></text>
<path class="t" d="M596.5 1100L575 1247"/>
<path class="t" d="M619.3 1166.8L695.8 1166.8"/>
<text x="657" y="1161.6" font-size="14" text-anchor="middle" class="d">75</text>
<text x="653" y="1182.8" font-size="14" text-anchor="middle" class="d">210</text>
<path class="t" d="M708.6 1166.8L708.6 1222"/>
<path class="k" d="M710.9 1169.1L706.3 1164.5"/>
<path class="k" d="M710.9 1224.2L706.3 1219.6"/>
<text x="707.2" y="1193.1" font-size="14" text-anchor="middle" class="d" transform="rotate(-90 707.2 1193.1)">79<tspan font-size="8.4" dy="-4.6">2</tspan></text>
<path class="k" d="M696.8 1224.2L692.2 1219.6"/>
<path class="t" d="M546 1267.9L677 1267.9"/>
<path class="k" d="M545.3 1270.2L549.9 1265.6"/>
<path class="k" d="M642.7 1270.2L647.3 1265.6"/>
<path class="k" d="M673.5 1270.2L678.1 1265.6"/>
<text x="593.8" y="1266.2" font-size="14" text-anchor="middle" class="d">1,47<tspan font-size="8.4" dy="-4.6">6</tspan></text>
<text x="660.1" y="1266.2" font-size="14" text-anchor="middle" class="d">45</text>
<path class="t" d="M634.6 1219.9L634.6 1324.5"/>
<path class="k" d="M636.9 1224.2L632.3 1219.6"/>
<path class="k" d="M636.9 1291.6L632.3 1287"/>
<path class="k" d="M636.9 1312L632.3 1307.4"/>
<path class="k" d="M636.9 1321.7L632.3 1317.1"/>
<text x="632.4" y="1239" font-size="14" text-anchor="middle" class="d" transform="rotate(-90 632.4 1239)">1,00</text>
<text x="632.4" y="1276.5" font-size="14" text-anchor="middle" class="d" transform="rotate(-90 632.4 1276.5)">30</text>
<text x="632.4" y="1328.3" font-size="14" text-anchor="middle" class="d" transform="rotate(-90 632.4 1328.3)">15</text>
<path class="t" d="M694.5 1221.9L694.5 1322"/>
<path class="k" d="M696.8 1241.3L692.2 1236.7"/>
<path class="k" d="M696.8 1322.5L692.2 1317.9"/>
<text x="693.2" y="1231.7" font-size="14" text-anchor="middle" class="d" transform="rotate(-90 693.2 1231.7)">25</text>
<text x="692.4" y="1285.7" font-size="14" text-anchor="middle" class="d" transform="rotate(-90 692.4 1285.7)">1,20</text>
<path class="t" d="M714.4 1199.5L714.4 1287.5"/>
<text x="709.7" y="1260.2" font-size="14" text-anchor="middle" class="d" transform="rotate(-90 709.7 1260.2)">115<tspan font-size="8.4" dy="-4.6">5</tspan></text>
<text x="730.6" y="1263.3" font-size="14" text-anchor="middle" class="d" transform="rotate(-90 730.6 1263.3)">250</text>
<path class="t" d="M793.3 1209.7L793.3 1287.5"/>
<text x="788.6" y="1260.2" font-size="14" text-anchor="middle" class="d" transform="rotate(-90 788.6 1260.2)">115<tspan font-size="8.4" dy="-4.6">5</tspan></text>
<text x="809.5" y="1263.3" font-size="14" text-anchor="middle" class="d" transform="rotate(-90 809.5 1263.3)">250</text>
<path class="t" d="M872.4 1209.7L872.4 1287.5"/>
<text x="867.7" y="1260.2" font-size="14" text-anchor="middle" class="d" transform="rotate(-90 867.7 1260.2)">115<tspan font-size="8.4" dy="-4.6">5</tspan></text>
<text x="888.6" y="1263.3" font-size="14" text-anchor="middle" class="d" transform="rotate(-90 888.6 1263.3)">250</text>
<path class="t" d="M951.5 1209.7L951.5 1287.5"/>
<text x="946.8" y="1260.2" font-size="14" text-anchor="middle" class="d" transform="rotate(-90 946.8 1260.2)">115<tspan font-size="8.4" dy="-4.6">5</tspan></text>
<text x="967.7" y="1263.3" font-size="14" text-anchor="middle" class="d" transform="rotate(-90 967.7 1263.3)">250</text>
<path class="t" d="M1030.6 1209.7L1030.6 1287.5"/>
<text x="1025.9" y="1260.2" font-size="14" text-anchor="middle" class="d" transform="rotate(-90 1025.9 1260.2)">115<tspan font-size="8.4" dy="-4.6">5</tspan></text>
<text x="1046.8" y="1263.3" font-size="14" text-anchor="middle" class="d" transform="rotate(-90 1046.8 1263.3)">250</text>
<text x="793.3" y="1232" font-size="14" text-anchor="middle" class="d">pm 0</text>
<text x="872.4" y="1232" font-size="14" text-anchor="middle" class="d">pm 0</text>
<text x="951.5" y="1232" font-size="14" text-anchor="middle" class="d">pm 0</text>
<text x="1030.6" y="1232" font-size="14" text-anchor="middle" class="d">pm 0</text>
<g class="lv"><circle cx="759.6" cy="1191.8" r="5.2"/><path class="q" d="M759.6 1191.8V1186.6A5.2 5.2 0 0 1 764.8 1191.8ZM759.6 1191.8V1197A5.2 5.2 0 0 1 754.4 1191.8Z"/><path d="M748.6 1191.8H770.6M759.6 1180.8V1202.8"/></g>
<text x="781.3" y="1188" font-size="14.3" text-anchor="middle" class="d">±0,00</text>
<g class="lv"><circle cx="703.5" cy="1320.2" r="5.2"/><path class="q" d="M703.5 1320.2V1315A5.2 5.2 0 0 1 708.7 1320.2ZM703.5 1320.2V1325.4A5.2 5.2 0 0 1 698.3 1320.2Z"/><path d="M692.5 1320.2H714.5M703.5 1309.2V1331.2"/></g>
<text x="725.2" y="1317.3" font-size="14.3" text-anchor="middle" class="d">-0,05</text>
<g class="lv"><circle cx="1134.3" cy="1320.2" r="5.2"/><path class="q" d="M1134.3 1320.2V1315A5.2 5.2 0 0 1 1139.5 1320.2ZM1134.3 1320.2V1325.4A5.2 5.2 0 0 1 1129.1 1320.2Z"/><path d="M1123.3 1320.2H1145.3M1134.3 1309.2V1331.2"/></g>
<text x="1156.8" y="1317.3" font-size="14.3" text-anchor="middle" class="d">-0,05</text>
<g class="lv"><circle cx="1218" cy="1163" r="5.2"/><path class="q" d="M1218 1163V1157.8A5.2 5.2 0 0 1 1223.2 1163ZM1218 1163V1168.2A5.2 5.2 0 0 1 1212.8 1163Z"/><path d="M1207 1163H1229M1218 1152V1174"/></g>
<text x="1241" y="1159.2" font-size="14.3" text-anchor="middle" class="d">±0,00</text>
<path class="t" d="M1053.6 1212.9L1130.8 1135.8"/>
<path class="k" d="M1055.1 1208.1L1055.1 1214.7"/>
<path class="k" d="M1108 1155.2L1108 1161.8"/>
<path class="k" d="M1114.8 1148.5L1114.8 1155"/>
<path class="k" d="M1129.2 1134L1129.2 1140.5"/>
<text x="1079.6" y="1183" font-size="14" text-anchor="middle" class="d" transform="rotate(-45 1079.6 1183)">1,08<tspan font-size="8.4" dy="-4.6">1</tspan></text>
<text x="1103" y="1153.3" font-size="14" text-anchor="middle" class="d" transform="rotate(-45 1103 1153.3)">15</text>
<text x="1122.1" y="1144.4" font-size="14" text-anchor="middle" class="d" transform="rotate(-45 1122.1 1144.4)">30</text>
<text x="1077.9" y="1205.6" font-size="14" text-anchor="middle" class="d" transform="rotate(45 1077.9 1205.6)">20</text>
<text x="1103.4" y="1195.4" font-size="14" text-anchor="middle" class="d" transform="rotate(45 1103.4 1195.4)">10</text>
<text x="1121.3" y="1208.2" font-size="14" text-anchor="middle" class="d" transform="rotate(45 1121.3 1208.2)">20</text>
<text x="1141.7" y="1227.3" font-size="14" text-anchor="middle" class="d" transform="rotate(45 1141.7 1227.3)">17<tspan font-size="8.4" dy="-4.6">5</tspan></text>
<text x="1109.8" y="1237.5" font-size="14" text-anchor="middle" class="d" transform="rotate(45 1109.8 1237.5)">20</text>
<path class="k" d="M1126.5 1221.2L1132.5 1221.2"/>
<path class="k" d="M1118 1212.2L1124 1212.2"/>
<path class="k" d="M1098.4 1231.4L1104.4 1231.4"/>
<path class="k" d="M1082 1212.5L1088 1212.5"/>
<path class="k" d="M1093 1201.5L1099 1201.5"/>
<path class="k" d="M1104.5 1203L1110.5 1203"/>
<text x="1162.9" y="1210.7" font-size="14" text-anchor="middle" class="d" transform="rotate(-45 1162.9 1210.7)">62<tspan font-size="8.4" dy="-4.6">5</tspan></text>
<text x="1179.5" y="1224.8" font-size="14" text-anchor="middle" class="d" transform="rotate(-45 1179.5 1224.8)">250</text>
<path class="t" d="M1131.5 1206.5L1164 1174"/>
<path class="t" d="M1161 1221L1206 1176"/>
<text x="1208.9" y="1254.1" font-size="14" text-anchor="middle" class="d" transform="rotate(-45 1208.9 1254.1)">120</text>
<text x="1224.2" y="1268.9" font-size="14" text-anchor="middle" class="d" transform="rotate(-45 1224.2 1268.9)">250</text>
<path class="t" d="M1197.5 1272.5L1250 1220"/>
<text x="1250.9" y="1299.5" font-size="14" text-anchor="middle" class="d" transform="rotate(-45 1250.9 1299.5)">62<tspan font-size="8.4" dy="-4.6">5</tspan></text>
<text x="1267.5" y="1312.8" font-size="14" text-anchor="middle" class="d" transform="rotate(-45 1267.5 1312.8)">250</text>
<path class="t" d="M1241 1316L1283.5 1273.5"/>
<path class="t" d="M1129 1218.5L1262.8 1352.2"/>
<path class="k" d="M1127.2 1220L1133.8 1220"/>
<path class="k" d="M1245.8 1338.5L1252.3 1338.5"/>
<path class="k" d="M1258 1350.8L1264.5 1350.8"/>
<text x="1191" y="1278.1" font-size="14" text-anchor="middle" class="d" transform="rotate(45 1191 1278.1)">2,45</text>
<text x="1241.7" y="1328.9" font-size="14" text-anchor="middle" class="d" transform="rotate(45 1241.7 1328.9)">25<tspan font-size="8.4" dy="-4.6">2</tspan></text>
<path class="t" d="M1102.2 1229.8L1244.3 1371.9"/>
<path class="k" d="M1100.4 1231.2L1107 1231.2"/>
<path class="k" d="M1239.5 1370.4L1246.1 1370.4"/>
<text x="1174.4" y="1299.6" font-size="14" text-anchor="middle" class="d" transform="rotate(45 1174.4 1299.6)">2,87<tspan font-size="8.4" dy="-4.6">7</tspan></text>
<text x="893.3" y="925.5" font-size="14" text-anchor="middle" class="d" transform="rotate(-45 893.3 925.5)">100</text>
<text x="907.8" y="940.8" font-size="14" text-anchor="middle" class="d" transform="rotate(-45 907.8 940.8)">210</text>
<path class="t" d="M888 938L925.5 900.5"/>
<text x="1099.2" y="975.3" font-size="14" text-anchor="middle" class="d" transform="rotate(-45 1099.2 975.3)">90</text>
<text x="1116.3" y="988.8" font-size="14" text-anchor="middle" class="d" transform="rotate(-45 1116.3 988.8)">210</text>
<path class="t" d="M1083.5 998.5L1116 966"/>
<text x="1220.3" y="1100.3" font-size="14" text-anchor="middle" class="d" transform="rotate(-45 1220.3 1100.3)">90</text>
<text x="1234.6" y="1113.6" font-size="14" text-anchor="middle" class="d" transform="rotate(-45 1234.6 1113.6)">210</text>
<path class="t" d="M1206 1121L1238.5 1088.5"/>
<text x="1331.4" y="1204.8" font-size="14" text-anchor="middle" class="d" transform="rotate(-45 1331.4 1204.8)">90</text>
<text x="1351.8" y="1215.7" font-size="14" text-anchor="middle" class="d" transform="rotate(-45 1351.8 1215.7)">210</text>
<path class="t" d="M1315 1230L1362.5 1182.5"/>
<text x="1329.3" y="1232.9" font-size="14" text-anchor="middle" class="d" transform="rotate(45 1329.3 1232.9)">75</text>
<text x="1315.3" y="1251.4" font-size="14" text-anchor="middle" class="d" transform="rotate(45 1315.3 1251.4)">210</text>
<path class="t" d="M1308 1258L1325 1275"/>
<text x="1060.9" y="878.3" font-size="14" text-anchor="middle" class="d" transform="rotate(-45 1060.9 878.3)">20</text>
<path class="k" d="M1049 884.7L1049 891.3"/>
<path class="k" d="M1062 871.7L1062 878.3"/>
<text x="1019.3" y="718.4" font-size="14" text-anchor="middle" class="d" transform="rotate(45 1019.3 718.4)">2,00</text>
<text x="1099.6" y="717.6" font-size="14" text-anchor="middle" class="d" transform="rotate(45 1099.6 717.6)">200</text>
<text x="1084.3" y="729.1" font-size="14" text-anchor="middle" class="d" transform="rotate(45 1084.3 729.1)">200</text>
<text x="1061.4" y="758.4" font-size="14" text-anchor="middle" class="d" transform="rotate(45 1061.4 758.4)">20</text>
<text x="1090.7" y="786.5" font-size="14" text-anchor="middle" class="d" transform="rotate(45 1090.7 786.5)">10</text>
<path class="k" d="M1065.8 765L1071.8 765"/>
<path class="k" d="M1073.5 775.3L1079.5 775.3"/>
<path class="k" d="M1079 780.5L1085 780.5"/>
<text x="944.5" y="642.4" font-size="14" text-anchor="middle" class="d" transform="rotate(45 944.5 642.4)">15</text>
<text x="977.7" y="682.4" font-size="14" text-anchor="middle" class="d" transform="rotate(45 977.7 682.4)">30</text>
<text x="880.5" y="879.6" font-size="14" text-anchor="middle" class="d" transform="rotate(-45 880.5 879.6)">25</text>
<path class="k" d="M953.9 654.1L959.9 654.1"/>
<path class="k" d="M968 668.8L974 668.8"/>
<path class="k" d="M884.5 881.5L884.5 887.5"/>
<path class="k" d="M872.5 893.5L872.5 899.5"/>
<g class="lv"><path d="M1158.6000000000001 992.9A4.6 4.6 0 0 0 1167.8 992.9Z" style="fill:#111;stroke:none"/><circle cx="1163.2" cy="992.9" r="4.6" style="fill:none;stroke:#111;stroke-width:1"/><path d="M1163.2 992.9V983.9H1170.2"/></g>
<text x="1181.2" y="1007.2" font-size="14.3" text-anchor="middle" class="d" transform="rotate(45 1181.2 1007.2)">±0,00</text>
<text x="1336.6" y="823.7" font-size="8.6" text-anchor="middle" class="d">200x100 zártszelvény</text>
<path class="t2" d="M1292 825.8L1480 825.8"/>
<text x="1304.5" y="1134.5" font-size="8.9" text-anchor="middle" class="d" transform="rotate(45 1304.5 1134.5)">SILKA HM 200 NF+GT</text>
<text x="1411.7" y="1155.9" font-size="14" text-anchor="middle" class="d" transform="rotate(-45 1411.7 1155.9)">1,74<tspan font-size="8.4" dy="-4.6">3</tspan></text>
<text x="1452.5" y="1145.7" font-size="14" text-anchor="middle" class="d" transform="rotate(-45 1452.5 1145.7)">65<tspan font-size="8.4" dy="-4.6">1</tspan></text>
<text x="1452.4" y="1170.4" font-size="14" text-anchor="middle" class="d" transform="rotate(45 1452.4 1170.4)">75</text>
<text x="1440.2" y="1189.1" font-size="14" text-anchor="middle" class="d" transform="rotate(45 1440.2 1189.1)">210</text>
<text x="1413.4" y="1190.3" font-size="14" text-anchor="middle" class="d" transform="rotate(45 1413.4 1190.3)">1,20<tspan font-size="8.4" dy="-4.6">1</tspan></text>
<text x="1473.4" y="1164.6" font-size="14" text-anchor="middle" class="d" transform="rotate(45 1473.4 1164.6)">10</text>
<text x="1459.3" y="1233.7" font-size="14" text-anchor="middle" class="d" transform="rotate(45 1459.3 1233.7)">72<tspan font-size="8.4" dy="-4.6">4</tspan></text>
<path class="t" d="M1387 1182L1449.5 1119.5"/>
<path class="t" d="M1435 1205L1485 1155"/>
<path class="t" d="M1365 1155L1455 1245"/>
<path class="t" d="M1404 1156L1469 1221"/>
<path class="k" d="M1378.3 1162L1384.3 1162"/>
<path class="k" d="M1379 1119L1385 1119"/>
<path class="k" d="M1433 1133L1433 1139"/>
<path class="k" d="M1448 1117L1448 1123"/>
<path class="k" d="M1470 1201L1470 1207"/>
<path class="k" d="M1373 1197L1373 1203"/>
<text x="1413.1" y="1281.1" font-size="14" text-anchor="middle" class="d" transform="rotate(-90 1413.1 1281.1)">25</text>
<text x="1413.1" y="1304" font-size="14" text-anchor="middle" class="d" transform="rotate(-90 1413.1 1304)">10</text>
<text x="1413.1" y="1327" font-size="14" text-anchor="middle" class="d" transform="rotate(-90 1413.1 1327)">10</text>
<path class="t" d="M1415.4 1280L1415.4 1325"/>
<path class="k" d="M1417.5 1291.1L1413.3 1286.9"/>
<path class="k" d="M1417.5 1308.6L1413.3 1304.4"/>
<path class="k" d="M1417.5 1315.1L1413.3 1310.9"/>
<path class="k" d="M1417.5 1322.3L1413.3 1318.1"/>
<text x="1543.1" y="1148" font-size="14" text-anchor="middle" class="d" transform="rotate(24 1543.1 1148)">1,45</text>
<text x="1586.4" y="1168.4" font-size="14" text-anchor="middle" class="d" transform="rotate(24 1586.4 1168.4)">25</text>
<text x="1617" y="1177.3" font-size="14" text-anchor="middle" class="d" transform="rotate(24 1617 1177.3)">10</text>
<text x="1632.3" y="1188.8" font-size="14" text-anchor="middle" class="d" transform="rotate(24 1632.3 1188.8)">10</text>
<path class="t" d="M1501 1133.5L1625 1189"/>
<path class="k" d="M1500.7 1135.6L1506.3 1133.4"/>
<path class="k" d="M1591.2 1176.1L1596.8 1173.9"/>
<path class="k" d="M1607.2 1183.1L1612.8 1180.9"/>
<path class="k" d="M1613.7 1186.1L1619.3 1183.9"/>
<path class="k" d="M1620.2 1189.1L1625.8 1186.9"/>
<text x="1542" y="1192.6" font-size="14" text-anchor="middle" class="d" transform="rotate(-66 1542 1192.6)">10</text>
<text x="1522.9" y="1234.7" font-size="14" text-anchor="middle" class="d" transform="rotate(-66 1522.9 1234.7)">1,40</text>
<text x="1491.3" y="1301.3" font-size="14" text-anchor="middle" class="d" transform="rotate(-78 1491.3 1301.3)">29<tspan font-size="8.4" dy="-4.6">3</tspan></text>
<path class="t" d="M1552 1172L1506 1278"/>
<path class="k" d="M1551.1 1179.8L1548.9 1174.2"/>
<path class="k" d="M1548.1 1186.8L1545.9 1181.2"/>
<path class="k" d="M1509.6 1275.3L1507.4 1269.7"/>
<path class="k" d="M1502.1 1291.8L1499.9 1286.2"/>
<path class="k" d="M1498.6 1309.3L1496.4 1303.7"/>
<text x="1505.3" y="734.2" font-size="14" text-anchor="middle" class="d" transform="rotate(-45 1505.3 734.2)">240</text>
<text x="1520.6" y="749" font-size="14" text-anchor="middle" class="d" transform="rotate(-45 1520.6 749)">240</text>
<path class="t" d="M1468.8 778.8L1518.8 728.8"/>
<text x="1631.6" y="859.2" font-size="14" text-anchor="middle" class="d" transform="rotate(-45 1631.6 859.2)">240</text>
<text x="1646.9" y="874" font-size="14" text-anchor="middle" class="d" transform="rotate(-45 1646.9 874)">240</text>
<path class="t" d="M1594.5 904.5L1644.5 854.5"/>
<path class="t" d="M1343 653L1393 603"/>
<text x="1756.1" y="913.1" font-size="14" text-anchor="middle" class="d" transform="rotate(40 1756.1 913.1)">6<tspan font-size="8.4" dy="-4.6">6</tspan></text>
<text x="1792.4" y="909.1" font-size="14" text-anchor="middle" class="d" transform="rotate(12 1792.4 909.1)">6<tspan font-size="8.4" dy="-4.6">6</tspan></text>
<path class="k" d="M1756 920L1762 920"/>
<path class="k" d="M1760 924L1766 924"/>
<path class="k" d="M1774 898L1780 898"/>
<path class="k" d="M1778 902L1784 902"/>
<path class="k" d="M1782 905.5L1788 905.5"/>
<text x="1657.7" y="928" font-size="14" text-anchor="middle" class="d" transform="rotate(-65 1657.7 928)">13<tspan font-size="8.4" dy="-4.6">7</tspan></text>
<text x="1638.6" y="970.1" font-size="14" text-anchor="middle" class="d" transform="rotate(-65 1638.6 970.1)">17<tspan font-size="8.4" dy="-4.6">2</tspan></text>
<path class="k" d="M1655.6 944.3L1653.4 938.7"/>
<path class="k" d="M1652.1 953.3L1649.9 947.7"/>
<path class="k" d="M1647.6 962.8L1645.4 957.2"/>
<text x="1591.7" y="1077.1" font-size="14" text-anchor="middle" class="d" transform="rotate(-65 1591.7 1077.1)">3,52<tspan font-size="8.4" dy="-4.6">2</tspan></text>
<path class="t" d="M1650 947L1540 1190"/>
<text x="1637.7" y="1069.4" font-size="14" text-anchor="middle" class="d" transform="rotate(-65 1637.7 1069.4)">pm 0</text>
<text x="1687.9" y="1086.8" font-size="14" text-anchor="middle" class="d" transform="rotate(15 1687.9 1086.8)">280</text>
<text x="1680.7" y="1105.9" font-size="14" text-anchor="middle" class="d" transform="rotate(15 1680.7 1105.9)">240</text>
<path class="t" d="M1623 1064L1700 1089"/>
<text x="1747" y="1059.4" font-size="14" text-anchor="middle" class="d" transform="rotate(-65 1747 1059.4)">1,76<tspan font-size="8.4" dy="-4.6">6</tspan></text>
<text x="1782.1" y="1044.1" font-size="14" text-anchor="middle" class="d" transform="rotate(-65 1782.1 1044.1)">29<tspan font-size="8.4" dy="-4.6">5</tspan></text>
<text x="1770" y="1004.5" font-size="14" text-anchor="middle" class="d" transform="rotate(-65 1770 1004.5)">6<tspan font-size="8.4" dy="-4.6">6</tspan></text>
<text x="1792.9" y="1016" font-size="14" text-anchor="middle" class="d" transform="rotate(-65 1792.9 1016)">7<tspan font-size="8.4" dy="-4.6">1</tspan></text>
<text x="1803.1" y="1000.7" font-size="14" text-anchor="middle" class="d" transform="rotate(-65 1803.1 1000.7)">6<tspan font-size="8.4" dy="-4.6">6</tspan></text>
<text x="1819.7" y="1026.2" font-size="14" text-anchor="middle" class="d" transform="rotate(-65 1819.7 1026.2)">6<tspan font-size="8.4" dy="-4.6">6</tspan></text>
<path class="k" d="M1776.9 996.4L1775.1 991.6"/>
<path class="k" d="M1779.4 991.9L1777.6 987.1"/>
<path class="k" d="M1799.9 1016.4L1798.1 1011.6"/>
<path class="k" d="M1802.4 1011.9L1800.6 1007.1"/>
<path class="k" d="M1804.9 1007.4L1803.1 1002.6"/>
<path class="k" d="M1826.9 1020.4L1825.1 1015.6"/>
<path class="k" d="M1829.4 1015.9L1827.6 1011.1"/>
<path class="k" d="M1792.1 1036.3L1789.9 1030.7"/>
<path class="t" d="M1780 985L1620 1350"/>
<text x="1747.4" y="1128.9" font-size="14" text-anchor="middle" class="d" transform="rotate(-65 1747.4 1128.9)">2,80</text>
<text x="1673.4" y="1224.5" font-size="14" text-anchor="middle" class="d" transform="rotate(-65 1673.4 1224.5)">3,72<tspan font-size="8.4" dy="-4.6">8</tspan></text>
<path class="t" d="M1832 1012L1671 1372"/>
<text x="1744.8" y="1197.8" font-size="14" text-anchor="middle" class="d" transform="rotate(-65 1744.8 1197.8)">5,49<tspan font-size="8.4" dy="-4.6">4</tspan></text>
<path class="t" d="M1806 1001L1645 1362"/>
<text x="1686.1" y="1265.4" font-size="14" text-anchor="middle" class="d" transform="rotate(-65 1686.1 1265.4)">2,09<tspan font-size="8.4" dy="-4.6">9</tspan></text>
<text x="1658.1" y="1329.1" font-size="14" text-anchor="middle" class="d" transform="rotate(-65 1658.1 1329.1)">23</text>
<path class="k" d="M1729.8 1111.7L1727.6 1106.1"/>
<path class="k" d="M1715.8 1209.9L1713.6 1204.3"/>
<path class="k" d="M1657.1 1342.6L1654.9 1337"/>
<path class="k" d="M1625 1344.7L1623.2 1339.9"/>
<path class="k" d="M1626.9 1340.4L1625.1 1335.6"/>
<path class="k" d="M1649.3 1357.5L1647.5 1352.7"/>
<path class="k" d="M1651.2 1353.2L1649.4 1348.4"/>
<path class="k" d="M1674.8 1369L1673 1364.2"/>
<path class="k" d="M1676.7 1364.7L1674.9 1359.9"/>
<text x="1617.3" y="1352.1" font-size="14" text-anchor="middle" class="d" transform="rotate(-65 1617.3 1352.1)">6<tspan font-size="8.4" dy="-4.6">3</tspan></text>
<text x="1641.5" y="1363.6" font-size="14" text-anchor="middle" class="d" transform="rotate(-65 1641.5 1363.6)">6<tspan font-size="8.4" dy="-4.6">3</tspan></text>
<text x="1667" y="1375.1" font-size="14" text-anchor="middle" class="d" transform="rotate(-65 1667 1375.1)">6<tspan font-size="8.4" dy="-4.6">3</tspan></text>
<g class="lv" transform="rotate(45 1664.7 488.8)"><circle cx="1664.7" cy="488.8" r="5.2"/><path class="q" d="M1664.7 488.8V483.6A5.2 5.2 0 0 1 1669.9 488.8ZM1664.7 488.8V494A5.2 5.2 0 0 1 1659.5 488.8Z"/><path d="M1653.7 488.8H1675.7M1664.7 477.8V499.8"/></g>
<text x="1690.9" y="500" font-size="13.5" text-anchor="middle" class="d" transform="rotate(48 1690.9 500)">-0,25</text>
<g class="lv" transform="rotate(45 1474.4 584.2)"><circle cx="1474.4" cy="584.2" r="5.2"/><path class="q" d="M1474.4 584.2V579A5.2 5.2 0 0 1 1479.6 584.2ZM1474.4 584.2V589.4A5.2 5.2 0 0 1 1469.2 584.2Z"/><path d="M1463.4 584.2H1485.4M1474.4 573.2V595.2"/></g>
<text x="1490.9" y="601" font-size="14.3" text-anchor="middle" class="d" transform="rotate(45 1490.9 601)">-0,10</text>
<g class="lv" transform="rotate(45 1426.6 678.6)"><circle cx="1426.6" cy="678.6" r="5.2"/><path class="q" d="M1426.6 678.6V673.4A5.2 5.2 0 0 1 1431.8 678.6ZM1426.6 678.6V683.8A5.2 5.2 0 0 1 1421.4 678.6Z"/><path d="M1415.6 678.6H1437.6M1426.6 667.6V689.6"/></g>
<text x="1443.7" y="697.9" font-size="14.3" text-anchor="middle" class="d" transform="rotate(45 1443.7 697.9)">-0,05</text>
<path class="tl" d="M884.8 734.8L1112.2 507.2"/>
<path class="tl" d="M1123.8 495.8L1159.8 459.8"/>
<path class="tl" d="M886.8 736.8L1114.2 509.2"/>
<path class="tl" d="M1125.8 497.8L1161.8 461.8"/>
<path class="tl" d="M890 740L1117.5 512.5"/>
<path class="tl" d="M1129 501L1165 465"/>
<path class="tl" d="M1160 681L1223 618"/>
<path class="tl" d="M1162.5 683.5L1225.5 620.5"/>
<path class="tl" d="M1165 686L1228 623"/>
<path class="tl" d="M1007 836L1062.5 780.5"/>
<path class="tl" d="M1009.5 838.5L1065 783"/>
<text x="1285.4" y="406" font-size="12" text-anchor="middle" transform="rotate(45 1285.4 406)" style="fill:#8a8a8a">2</text>
<text x="1342.8" y="446" font-size="12" text-anchor="middle" transform="rotate(-45 1342.8 446)" style="fill:#8a8a8a">B</text>
<text x="1230.5" y="572" font-size="12" text-anchor="middle" transform="rotate(-45 1230.5 572)" style="fill:#8a8a8a">E</text>
<text x="880" y="812" font-size="12" text-anchor="middle" transform="rotate(-45 880 812)" style="fill:#8a8a8a">L2</text>
<text x="732.6" y="495" font-size="12" text-anchor="middle" transform="rotate(40 732.6 495)" style="fill:#8a8a8a">JC</text>
<path class="t" style="stroke:#8a8a8a;stroke-width:1.2" d="M1288 378L1303 393M1336 426L1351 441M1226 584L1238 572M1278.5 410L1284 415.5L1290 410M868 820L874 826L880 820"/>
<text x="1049.7" y="677.6" font-size="16" text-anchor="middle" class="b">LÉPCSŐHÁZ</text>
<text x="1049.7" y="694.2" font-size="13.6" text-anchor="middle">kerámia</text>
<text x="1049.7" y="710.4" font-size="13.6" text-anchor="middle">9,50 m<tspan font-size="8" dy="-4.6">2</tspan></text>
<text x="1213.7" y="782.9" font-size="16" text-anchor="middle" class="b">GARÁZS</text>
<text x="1213.7" y="799.5" font-size="13.6" text-anchor="middle">kerámia</text>
<text x="1213.7" y="815.7" font-size="13.6" text-anchor="middle">15,50 m<tspan font-size="8" dy="-4.6">2</tspan></text>
<text x="1323.9" y="899" font-size="16" text-anchor="middle" class="b">GARÁZS</text>
<text x="1323.9" y="915.6" font-size="13.6" text-anchor="middle">kerámia</text>
<text x="1323.9" y="931.8" font-size="13.6" text-anchor="middle">14,95 m<tspan font-size="8" dy="-4.6">2</tspan></text>
<text x="1456.3" y="1031.8" font-size="16" text-anchor="middle" class="b">GARÁZS</text>
<text x="1456.3" y="1048.4" font-size="13.6" text-anchor="middle">kerámia</text>
<text x="1456.3" y="1064.6" font-size="13.6" text-anchor="middle">19,14 m<tspan font-size="8" dy="-4.6">2</tspan></text>
<text x="831" y="1032.9" font-size="16" text-anchor="middle" class="b">IRODA</text>
<text x="831" y="1049.5" font-size="13.6" text-anchor="middle">LVT</text>
<text x="831" y="1065.7" font-size="13.6" text-anchor="middle">32,00 m<tspan font-size="8" dy="-4.6">2</tspan></text>
<text x="1146.1" y="1052" font-size="16" text-anchor="middle" class="b">KÖZL.</text>
<text x="1146.1" y="1068.6" font-size="13.6" text-anchor="middle">kerámia</text>
<text x="1146.1" y="1084.8" font-size="13.6" text-anchor="middle">14,30 m<tspan font-size="8" dy="-4.6">2</tspan></text>
<text x="616" y="1125.5" font-size="16" text-anchor="middle" class="b">FÜRDŐ</text>
<text x="616" y="1142.1" font-size="13.6" text-anchor="middle">kerámia</text>
<text x="616" y="1158.3" font-size="13.6" text-anchor="middle">5,18 m<tspan font-size="8" dy="-4.6">2</tspan></text>
<text x="1492.4" y="1201.2" font-size="16" text-anchor="middle" class="b">WC</text>
<text x="1492.4" y="1217.8" font-size="13.6" text-anchor="middle">kerámia</text>
<text x="1492.4" y="1234" font-size="13.6" text-anchor="middle">2,95 m<tspan font-size="8" dy="-4.6">2</tspan></text>
<text x="1377.6" y="1254.2" font-size="16" text-anchor="middle" class="b">TÁR.</text>
<text x="1377.6" y="1270.8" font-size="13.6" text-anchor="middle">kerámia</text>
<text x="1377.6" y="1287" font-size="13.6" text-anchor="middle">0,94 m<tspan font-size="8" dy="-4.6">2</tspan></text>
<text x="907.7" y="1291.3" font-size="16" text-anchor="middle" class="b">FEDETT TERASZ</text>
<text x="907.7" y="1304.8" font-size="13.6" text-anchor="middle">beton térkő</text>
<text x="907.7" y="1318.1" font-size="13.6" text-anchor="middle">6,35 m<tspan font-size="8" dy="-4.6">2</tspan></text>
<text x="1119.8" y="1270.4" font-size="16" text-anchor="middle" class="b">BEJÁRATI</text>
<text x="1119.8" y="1285" font-size="16" text-anchor="middle" class="b">TERASZ</text>
<text x="1119.8" y="1298.5" font-size="13.6" text-anchor="middle">beton térkő</text>
<text x="1119.8" y="1311.7" font-size="13.6" text-anchor="middle">4,42 m<tspan font-size="8" dy="-4.6">2</tspan></text>
</svg></body></html>
